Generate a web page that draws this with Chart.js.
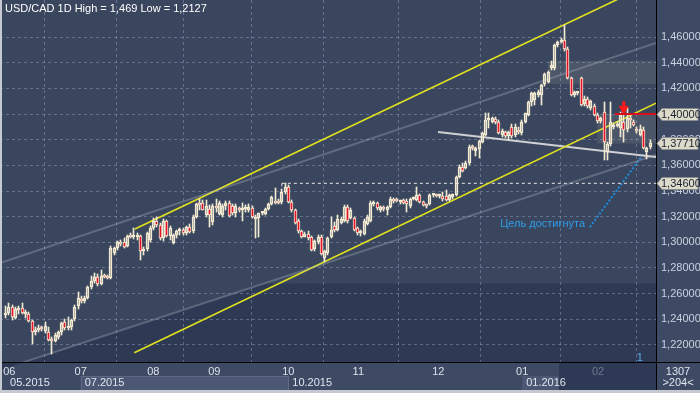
<!DOCTYPE html>
<html>
<head>
<meta charset="utf-8">
<script src="https://cdn.jsdelivr.net/npm/chart.js@4.4.1/dist/chart.umd.min.js"></script>
<style>
html, body { margin: 0; padding: 0; background: #3e4a64; }
canvas { display: block; }
</style>
</head>
<body>
<canvas id="chart" width="700" height="393"></canvas>
<script>
// USD/CAD daily candles, bar index 0..196 (end of May 2015 .. end of Feb 2016)
var opens = [
  1.2430,1.2447,1.2494,1.2410,1.2470,1.2490,1.2440,1.2440,1.2385,1.2300,
  1.2320,1.2335,1.2310,1.2300,1.2240,1.2235,1.2265,1.2300,1.2380,1.2330,
  1.2340,1.2400,1.2500,1.2560,1.2545,1.2570,1.2650,1.2700,1.2730,1.2675,
  1.2740,1.2735,1.2725,1.2915,1.2955,1.3000,1.3000,1.2975,1.3050,1.3040,
  1.3045,1.3050,1.2935,1.2945,1.3020,1.3110,1.3170,1.3135,1.3035,1.3165,
  1.3050,1.2998,1.3055,1.3085,1.3095,1.3070,1.3120,1.3085,1.3200,1.3300,
  1.3310,1.3210,1.3260,1.3160,1.3285,1.3220,1.3210,1.3280,1.3310,1.3280,
  1.3225,1.3260,1.3250,1.3262,1.3255,1.3270,1.3180,1.3190,1.3225,1.3220,
  1.3260,1.3300,1.3320,1.3318,1.3318,1.3390,1.3435,1.3318,1.3252,1.3170,
  1.3090,1.3045,1.3068,1.3040,1.2950,1.3000,1.3040,1.2880,1.2915,1.3040,
  1.3130,1.3095,1.3150,1.3170,1.3275,1.3190,1.3190,1.3110,1.3070,1.3065,
  1.3145,1.3165,1.3300,1.3305,1.3255,1.3270,1.3255,1.3275,1.3330,1.3330,
  1.3318,1.3330,1.3320,1.3280,1.3340,1.3330,1.3368,1.3316,1.3292,1.3300,
  1.3365,1.3370,1.3360,1.3362,1.3360,1.3330,1.3350,1.3368,1.3510,1.3590,
  1.3580,1.3615,1.3745,1.3710,1.3725,1.3784,1.3836,1.3950,1.3940,1.3962,
  1.3940,1.3838,1.3862,1.3825,1.3900,1.3835,1.3870,1.3850,1.3940,1.3995,
  1.4090,1.4110,1.4150,1.4145,1.4230,1.4250,1.4355,1.4355,1.4537,1.4560,
  1.4576,1.4510,1.4280,1.4150,1.4160,1.4278,1.4080,1.4120,1.4045,1.4060,
  1.3995,1.3945,1.4018,1.3706,1.3765,1.3895,1.3905,1.3888,1.3940,1.3885,
  1.3960,1.3940,1.3880,1.3840,1.3875,1.3705,1.3745
];
var highs = [
  1.2500,1.2525,1.2510,1.2495,1.2500,1.2525,1.2470,1.2455,1.2395,1.2340,
  1.2355,1.2350,1.2380,1.2340,1.2260,1.2290,1.2310,1.2380,1.2400,1.2420,
  1.2400,1.2510,1.2610,1.2585,1.2580,1.2660,1.2740,1.2760,1.2755,1.2785,
  1.2750,1.2745,1.2970,1.2965,1.3010,1.3020,1.3030,1.3060,1.3070,1.3110,
  1.3075,1.3060,1.2960,1.3080,1.3125,1.3190,1.3195,1.3150,1.3180,1.3175,
  1.3130,1.3065,1.3100,1.3110,1.3110,1.3130,1.3140,1.3210,1.3310,1.3335,
  1.3330,1.3330,1.3290,1.3295,1.3335,1.3320,1.3300,1.3320,1.3325,1.3300,
  1.3300,1.3275,1.3310,1.3290,1.3300,1.3280,1.3210,1.3230,1.3235,1.3270,
  1.3310,1.3360,1.3420,1.3340,1.3415,1.3460,1.3450,1.3330,1.3260,1.3180,
  1.3100,1.3080,1.3085,1.3050,1.3020,1.3060,1.3060,1.2940,1.3045,1.3195,
  1.3160,1.3210,1.3200,1.3290,1.3290,1.3265,1.3200,1.3120,1.3100,1.3180,
  1.3210,1.3320,1.3320,1.3315,1.3285,1.3285,1.3280,1.3350,1.3345,1.3345,
  1.3330,1.3340,1.3335,1.3345,1.3355,1.3430,1.3375,1.3320,1.3300,1.3375,
  1.3380,1.3380,1.3380,1.3390,1.3410,1.3375,1.3380,1.3515,1.3600,1.3615,
  1.3630,1.3755,1.3760,1.3740,1.3800,1.3860,1.4005,1.4005,1.3975,1.3975,
  1.3950,1.3880,1.3870,1.3870,1.3925,1.3925,1.3895,1.3950,1.4010,1.4105,
  1.4170,1.4175,1.4185,1.4235,1.4320,1.4335,1.4410,1.4545,1.4570,1.4590,
  1.4690,1.4525,1.4290,1.4180,1.4175,1.4290,1.4140,1.4130,1.4110,1.4075,
  1.4005,1.3980,1.4096,1.3784,1.4096,1.3930,1.3935,1.4018,1.4044,1.4044,
  1.3992,1.3950,1.3895,1.3915,1.3900,1.3740,1.3795
];
var lows = [
  1.2410,1.2430,1.2395,1.2400,1.2440,1.2440,1.2410,1.2380,1.2205,1.2280,
  1.2300,1.2310,1.2290,1.2230,1.2127,1.2220,1.2250,1.2280,1.2320,1.2320,
  1.2320,1.2390,1.2480,1.2530,1.2530,1.2560,1.2640,1.2680,1.2660,1.2665,
  1.2720,1.2715,1.2715,1.2905,1.2940,1.2975,1.2955,1.2960,1.3030,1.3025,
  1.3020,1.2865,1.2900,1.2930,1.3005,1.3100,1.3120,1.3020,1.3010,1.3040,
  1.3020,1.2985,1.3030,1.3060,1.3060,1.3055,1.3075,1.3070,1.3190,1.3250,
  1.3250,1.3195,1.3120,1.3135,1.3240,1.3210,1.3195,1.3250,1.3195,1.3215,
  1.3200,1.3240,1.3170,1.3240,1.3240,1.3190,1.3030,1.3040,1.3215,1.3210,
  1.3250,1.3290,1.3300,1.3300,1.3300,1.3380,1.3310,1.3240,1.3140,1.3070,
  1.3030,1.3040,1.3020,1.2930,1.2935,1.2990,1.2900,1.2845,1.2900,1.3030,
  1.3080,1.3085,1.3140,1.3155,1.3150,1.3180,1.3090,1.3060,1.3050,1.3055,
  1.3135,1.3155,1.3285,1.3255,1.3240,1.3245,1.3210,1.3265,1.3310,1.3315,
  1.3300,1.3295,1.3240,1.3270,1.3330,1.3325,1.3310,1.3285,1.3265,1.3290,
  1.3355,1.3350,1.3345,1.3320,1.3320,1.3320,1.3340,1.3360,1.3500,1.3545,
  1.3570,1.3600,1.3720,1.3670,1.3660,1.3775,1.3825,1.3890,1.3930,1.3925,
  1.3845,1.3820,1.3815,1.3800,1.3815,1.3820,1.3845,1.3840,1.3930,1.3985,
  1.4060,1.4070,1.4130,1.4070,1.4220,1.4240,1.4340,1.4340,1.4520,1.4550,
  1.4490,1.4270,1.4140,1.4130,1.4145,1.4060,1.4060,1.4050,1.4030,1.3985,
  1.3930,1.3930,1.3641,1.3645,1.3750,1.3880,1.3895,1.3820,1.3784,1.3860,
  1.3888,1.3905,1.3850,1.3830,1.3725,1.3650,1.3730
];
var closes = [
  1.2450,1.2499,1.2415,1.2478,1.2485,1.2450,1.2455,1.2385,1.2300,1.2320,
  1.2335,1.2325,1.2345,1.2240,1.2235,1.2280,1.2300,1.2370,1.2330,1.2345,
  1.2395,1.2495,1.2570,1.2545,1.2570,1.2650,1.2700,1.2730,1.2675,1.2735,
  1.2730,1.2722,1.2955,1.2955,1.3000,1.2990,1.2960,1.3050,1.3045,1.3050,
  1.3055,1.2935,1.2945,1.3070,1.3110,1.3170,1.3135,1.3035,1.3165,1.3050,
  1.3110,1.3055,1.3085,1.3095,1.3070,1.3120,1.3080,1.3200,1.3300,1.3290,
  1.3255,1.3280,1.3215,1.3285,1.3270,1.3305,1.3280,1.3305,1.3205,1.3225,
  1.3285,1.3255,1.3262,1.3270,1.3275,1.3200,1.3200,1.3225,1.3228,1.3260,
  1.3300,1.3350,1.3310,1.3308,1.3390,1.3430,1.3318,1.3252,1.3148,1.3085,
  1.3045,1.3068,1.3030,1.2940,1.3010,1.3040,1.2910,1.2930,1.3035,1.3095,
  1.3095,1.3185,1.3185,1.3275,1.3165,1.3250,1.3100,1.3070,1.3085,1.3170,
  1.3195,1.3305,1.3305,1.3265,1.3275,1.3262,1.3272,1.3340,1.3320,1.3322,
  1.3325,1.3305,1.3295,1.3340,1.3348,1.3368,1.3316,1.3292,1.3280,1.3365,
  1.3370,1.3358,1.3368,1.3335,1.3332,1.3368,1.3375,1.3510,1.3590,1.3555,
  1.3620,1.3745,1.3735,1.3735,1.3790,1.3849,1.3953,1.3962,1.3966,1.3935,
  1.3850,1.3870,1.3825,1.3862,1.3825,1.3900,1.3860,1.3940,1.4005,1.4096,
  1.4160,1.4160,1.4175,1.4226,1.4315,1.4325,1.4381,1.4537,1.4560,1.4575,
  1.4510,1.4280,1.4150,1.4175,1.4165,1.4070,1.4120,1.4060,1.4100,1.3992,
  1.3945,1.3965,1.3784,1.3770,1.3940,1.3915,1.3925,1.3992,1.3875,1.3966,
  1.3955,1.3915,1.3865,1.3885,1.3732,1.3735,1.3771
];

var yTicks = [1.22, 1.24, 1.26, 1.28, 1.30, 1.32, 1.34, 1.36, 1.38, 1.40, 1.42, 1.44, 1.46];
var monthTicks = [1.1, 22.8, 44.9, 63.45, 85.96, 107.25, 131.6, 157.1, 180.2];
var monthLabels = ['06', '07', '08', '09', '10', '11', '12', '01', '02'];
var periodTicks = [0.1, 22.8, 85.96, 157.1];
var periodLabels = ['05.2015', '07.2015', '10.2015', '01.2016'];
var priceTags = [1.40, 1.3771, 1.346];

// drawn objects, [bar index, price]
var upperChannel = [[39.3, 1.3104], [197.8, 1.5036]];
var lowerChannel = [[39.1, 1.2140], [197.8, 1.4085]];
var upperGray = [[-1.73, 1.2839], [197.8, 1.4553]];
var lowerGray = [[-1.73, 1.2005], [197.8, 1.3681]];
var neckline = [[131.5, 1.3860], [197.8, 1.3665]];
var level1346 = [[84.0, 1.3460], [197.8, 1.3460]];
var level1346Tick = [[84.0, 1.3460], [84.0, 1.3425]];
var level1400 = [[185.3, 1.4000], [197.8, 1.4000]];
var targetLine = [[177.7, 1.3119], [194.2, 1.3696]];
var arrowStem = [[188, 1.4100], [188, 1.4050]];
var arrowHead = [[188, 1.4040]];
var targetNote = [150.4, 1.3145, 'Цель достигнута'];
var waveNote = [192.9, 1.2099, '1'];
var zones = [[164.9, 1.4235, 1.4415], [179.9, 1.3770, 1.4000]];
var darkLevel = 1.268;
var navFrom = 168.3;

var FONT = '"Liberation Sans Narrow", "Liberation Sans", Arial, sans-serif';
var CANDLE = '#f3ead2';
var BEAR = '#e3132c';

var idx = closes.map(function (c, i) { return i; });
var bodies = idx.map(function (i) { return {x: i, y: [opens[i], closes[i]]}; });
var upWicks = idx.map(function (i) { return {x: i, y: [Math.max(opens[i], closes[i]), highs[i]]}; });
var downWicks = idx.map(function (i) { return {x: i, y: [lows[i], Math.min(opens[i], closes[i])]}; });
var bodyColors = idx.map(function (i) { return closes[i] < opens[i] ? BEAR : 'rgba(0,0,0,0)'; });

function seg(points, color, width, dash) {
    return {
        type: 'line',
        data: points.map(function (p) { return {x: p[0], y: p[1]}; }),
        borderColor: color,
        borderWidth: width,
        borderDash: dash || [],
        pointRadius: 0,
        fill: false,
        order: 5
    };
}

function fmt(v) { return v.toFixed(5).replace('.', ','); }

function noPadding(s) {
    s.paddingTop = 0; s.paddingBottom = 0; s.paddingLeft = 0; s.paddingRight = 0;
}

// snap candle bars to whole pixels so they stay sharp
var crisp = {
    id: 'crisp',
    afterDatasetsUpdate: function (chart) {
        chart.data.datasets.forEach(function (ds, i) {
            var meta = chart.getDatasetMeta(i);
            if (meta.type !== 'bar') return;
            meta.data.forEach(function (el) {
                el.x = Math.floor(el.x) + 0.5;
                el.y = Math.round(el.y);
                el.base = Math.round(el.base);
            });
        });
    }
};

var deco = {
    id: 'deco',
    beforeDraw: function (chart) {
        var ctx = chart.ctx, a = chart.chartArea, x = chart.scales.x, y = chart.scales.y;
        ctx.save();
        ctx.fillStyle = '#3e4a64';
        ctx.fillRect(0, 0, chart.width, chart.height);
        ctx.fillStyle = '#3a465e';
        ctx.fillRect(a.left, a.top, a.right - a.left, a.bottom - a.top);

        // darker area under the lower grey line / below 1.268
        var p0 = lowerGray[0], p1 = lowerGray[1];
        var slope = (p1[1] - p0[1]) / (p1[0] - p0[0]);
        var cross = p0[0] + (darkLevel - p0[1]) / slope;
        var yl = y.getPixelForValue(darkLevel);
        ctx.fillStyle = '#2e3954';
        ctx.beginPath();
        ctx.moveTo(x.getPixelForValue(p0[0]), y.getPixelForValue(p0[1]));
        ctx.lineTo(x.getPixelForValue(cross), yl);
        ctx.lineTo(a.right, yl);
        ctx.lineTo(a.right, a.bottom);
        ctx.lineTo(a.left, a.bottom);
        ctx.closePath();
        ctx.fill();

        ctx.fillStyle = 'rgba(150,150,150,0.2)';
        zones.forEach(function (z) {
            var x0 = x.getPixelForValue(z[0]);
            var yt = y.getPixelForValue(z[2]), yb = y.getPixelForValue(z[1]);
            ctx.fillRect(x0, yt, a.right - x0, yb - yt);
        });

        // bottom panel
        var b = a.bottom;
        ctx.fillStyle = '#4b5773';
        var px1 = x.getPixelForValue(periodTicks[1]), px2 = x.getPixelForValue(periodTicks[2]);
        var px3 = x.getPixelForValue(periodTicks[3]), pn = x.getPixelForValue(navFrom);
        ctx.fillRect(px1, b + 14, px2 - px1, 14);
        ctx.fillRect(px3, b + 14, pn - px3, 14);
        ctx.fillStyle = '#2e3955';
        ctx.fillRect(pn, b, a.right - pn, 29);
        ctx.strokeStyle = '#5e6a85';
        ctx.lineWidth = 1;
        ctx.beginPath();
        ctx.moveTo(px1, b + 14.5); ctx.lineTo(px2, b + 14.5);
        ctx.moveTo(Math.round(px1) + 0.5, b + 14); ctx.lineTo(Math.round(px1) + 0.5, b + 28);
        ctx.moveTo(Math.round(px2) + 0.5, b + 14); ctx.lineTo(Math.round(px2) + 0.5, b + 28);
        ctx.stroke();
        ctx.restore();
    },
    afterDraw: function (chart) {
        var ctx = chart.ctx, a = chart.chartArea, x = chart.scales.x, y = chart.scales.y;
        ctx.save();
        ctx.strokeStyle = '#000';
        ctx.lineWidth = 1;
        ctx.beginPath();
        ctx.moveTo(a.right + 0.5, 0); ctx.lineTo(a.right + 0.5, chart.height);
        ctx.moveTo(0, a.bottom + 0.5); ctx.lineTo(chart.width, a.bottom + 0.5);
        ctx.stroke();

        // price tags on the axis
        ctx.font = '11px ' + FONT;
        ctx.textBaseline = 'middle';
        ctx.textAlign = 'left';
        priceTags.forEach(function (v) {
            var py = Math.round(y.getPixelForValue(v)) + 0.5;
            ctx.fillStyle = '#dcdac8';
            ctx.strokeStyle = '#8a8c90';
            ctx.beginPath();
            ctx.moveTo(a.right + 1, py);
            ctx.lineTo(a.right + 6, py - 6);
            ctx.lineTo(a.right + 42, py - 6);
            ctx.lineTo(a.right + 42, py + 6);
            ctx.lineTo(a.right + 6, py + 6);
            ctx.closePath();
            ctx.fill();
            ctx.stroke();
            ctx.fillStyle = '#1c2233';
            ctx.fillText(fmt(v), a.right + 5, py + 0.5);
        });

        // texts
        ctx.fillStyle = '#ffffff';
        ctx.fillText('USD/CAD 1D High = 1,469 Low = 1,2127', 5, 8.5);
        ctx.fillStyle = '#2f9de8';
        ctx.fillText(targetNote[2], x.getPixelForValue(targetNote[0]), y.getPixelForValue(targetNote[1]));
        ctx.fillStyle = '#5aaae6';
        ctx.textAlign = 'center';
        ctx.fillText(waveNote[2], x.getPixelForValue(waveNote[0]), y.getPixelForValue(waveNote[1]));

        ctx.fillStyle = '#dfe6f0';
        ctx.textAlign = 'left';
        periodLabels.forEach(function (t, i) {
            ctx.fillText(t, x.getPixelForValue(periodTicks[i]) + 4, a.bottom + 20.5);
        });
        ctx.textAlign = 'center';
        ctx.fillText('1307', (a.right + chart.width) / 2, a.bottom + 9.5);
        ctx.fillText('>204<', (a.right + chart.width) / 2, a.bottom + 21);

        // outer frame
        ctx.fillStyle = '#c5c9d1';
        ctx.fillRect(0, 0, 2, chart.height);
        ctx.fillRect(0, chart.height - 3, chart.width, 3);
        ctx.restore();
    }
};

new Chart(document.getElementById('chart'), {
    type: 'bar',
    data: {
        datasets: [
            {
                data: bodies,
                backgroundColor: bodyColors,
                borderColor: CANDLE,
                borderWidth: 1,
                borderSkipped: false,
                barThickness: 3,
                minBarLength: 2,
                grouped: false,
                order: 1
            },
            {data: upWicks, backgroundColor: CANDLE, barThickness: 1, grouped: false, order: 2},
            {data: downWicks, backgroundColor: CANDLE, barThickness: 1, grouped: false, order: 2},
            seg(upperGray, 'rgba(180,186,200,0.32)', 2),
            seg(lowerGray, 'rgba(180,186,200,0.32)', 2),
            seg(upperChannel, '#e2e21e', 1.6),
            seg(lowerChannel, '#e2e21e', 1.6),
            seg(neckline, '#cfd0d4', 2),
            seg(level1346, '#e8e8e8', 1, [3, 3]),
            seg(level1346Tick, '#e8e8e8', 1, [3, 3]),
            seg(targetLine, '#1e8fe0', 2, [2, 2]),
            Object.assign(seg(level1400, '#d8101e', 2), {order: 0}),
            Object.assign(seg(arrowStem, '#ff1a1a', 3), {order: 0}),
            {
                type: 'line',
                data: arrowHead.map(function (p) { return {x: p[0], y: p[1]}; }),
                showLine: false,
                pointStyle: 'triangle',
                pointRotation: 180,
                pointRadius: 5,
                pointBackgroundColor: '#ff1a1a',
                pointBorderColor: '#ff1a1a',
                order: 0
            }
        ]
    },
    options: {
        responsive: false,
        animation: false,
        events: [],
        layout: {padding: 0, autoPadding: false},
        plugins: {legend: {display: false}, tooltip: {enabled: false}},
        scales: {
            x: {
                type: 'linear',
                min: -1.734,
                max: 197.81,
                offset: false,
                afterFit: function (s) { s.height = 31; noPadding(s); },
                afterBuildTicks: function (s) { s.ticks = monthTicks.map(function (v) { return {value: v}; }); },
                grid: {color: 'rgba(140,155,185,0.5)', drawTicks: false},
                border: {display: false, dash: [3, 3]},
                ticks: {
                    autoSkip: false,
                    maxRotation: 0,
                    padding: 3,
                    font: {family: FONT, size: 11},
                    color: function (c) { return c.index === 8 ? '#6c7a92' : '#dbe2ec'; },
                    callback: function (v, i) { return monthLabels[i]; }
                }
            },
            y: {
                position: 'right',
                min: 1.20675,
                max: 1.48884,
                beginAtZero: false,
                afterFit: function (s) { s.width = 44; noPadding(s); },
                afterBuildTicks: function (s) { s.ticks = yTicks.map(function (v) { return {value: v}; }); },
                grid: {color: 'rgba(140,155,185,0.5)', drawTicks: false},
                border: {display: false, dash: [3, 3]},
                ticks: {
                    padding: 5,
                    font: {family: FONT, size: 11},
                    color: '#c9d2e0',
                    callback: function (v) { return fmt(v); }
                }
            }
        }
    },
    plugins: [crisp, deco]
});
</script>
</body>
</html>
